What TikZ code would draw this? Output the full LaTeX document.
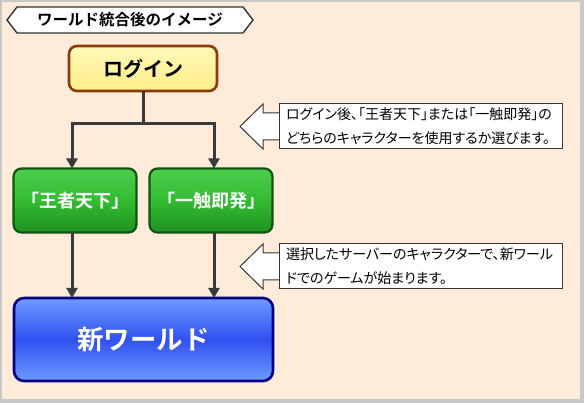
\documentclass[tikz,border=0pt]{standalone}
\usepackage{fontspec}
\usetikzlibrary{arrows.meta}
\newfontfamily\jpfont{Noto Sans CJK JP}[BoldFont={Noto Sans CJK JP Bold}]
\newfontfamily\jpnote{Noto Sans CJK JP}[RawFeature=+palt]

\definecolor{cc8c8c8}{RGB}{200,200,200}
\definecolor{cffebda}{RGB}{255,235,218}
\definecolor{c333333}{RGB}{51,51,51}
\definecolor{c3a3a3a}{RGB}{58,58,58}
\definecolor{c8b3a0c}{RGB}{139,58,12}
\definecolor{cfff9b8}{RGB}{255,249,184}
\definecolor{cffee88}{RGB}{255,238,136}
\definecolor{c115511}{RGB}{17,85,17}
\definecolor{c4ccc4c}{RGB}{76,204,76}
\definecolor{c33bb33}{RGB}{51,187,51}
\definecolor{c1f921f}{RGB}{31,146,31}
\definecolor{c000080}{RGB}{0,0,128}
\definecolor{c6e9bff}{RGB}{110,155,255}
\definecolor{c3050f0}{RGB}{48,80,240}

\tikzset{
  loginbox/.style={draw=c8b3a0c, line width=2.6pt, rounded corners=8pt,
    top color=cfff9b8, bottom color=cffee88, minimum width=148pt,
    minimum height=45pt, font=\jpfont\bfseries\fontsize{20}{20}\selectfont},
  teambox/.style={draw=c115511, line width=2.2pt, rounded corners=8pt,
    top color=c4ccc4c, bottom color=c1f921f, middle color=c33bb33,
    minimum width=123pt, minimum height=64pt, text=white,
    font=\jpfont\bfseries\fontsize{18}{18}\selectfont},
  worldbox/.style={draw=c000080, line width=2.6pt, rounded corners=10pt,
    top color=c6e9bff, bottom color=c6e9bff, middle color=c3050f0,
    minimum width=259pt, minimum height=83pt, text=white,
    font=\jpfont\bfseries\fontsize{26.5}{26.5}\selectfont},
  notebox/.style={draw=c333333, fill=white, line width=1pt, anchor=north west,
    minimum width=283pt, minimum height=45pt, text width=269pt,
    inner xsep=7pt, align=left, font=\jpnote\fontsize{14}{17}\selectfont,
    execute at begin node=\vspace*{7pt}},
  hintarrow/.style={draw=c333333, fill=white, line width=1pt, line join=miter},
  link/.style={draw=c3a3a3a, line width=3pt},
  linkto/.style={link, -{Triangle[length=10pt,width=11pt]}}
}

\begin{document}
\begin{tikzpicture}[y=1pt, x=1pt, yscale=-1, inner sep=0pt, outer sep=0pt]
  % frame
  \path[fill=cc8c8c8] (0,0) rectangle (584,403);
  \path[fill=cffebda] (2,2) rectangle (580,399.5);

  % title tag
  \path[draw=c333333, fill=white, line width=1.4pt, line join=miter]
    (7,20) -- (17,7) -- (243,7) -- (253,20) -- (243,33) -- (17,33) -- cycle;
  \path (130,20) node (title)
    {\jpfont\bfseries\fontsize{15.5}{15.5}\selectfont ワールド統合後のイメージ};

  % boxes
  \path (143,68.5) node[loginbox] (login) {ログイン};
  \path (75,200.5) node[teambox] (ohsha) {「王者天下」};
  \path (211,200.5) node[teambox] (ishoku) {「一触即発」};
  \path (143.5,339.5) node[worldbox] (world) {新ワールド};

  % connectors
  \coordinate (laneL) at (72,124);
  \coordinate (laneR) at (214,124);
  \coordinate (split) at (login.south |- laneL);
  \draw[link] (login.south) -- (split);
  \draw[link, line cap=rect] (laneL) -- (laneR);
  \draw[linkto] (laneL) -- (laneL |- ohsha.north);
  \draw[linkto] (laneR) -- (laneR |- ishoku.north);
  \draw[linkto] (laneL |- ohsha.south) -- (laneL |- world.north);
  \draw[linkto] (laneR |- ishoku.south) -- (laneR |- world.north);

  % hints
  \coordinate (hint1) at (240,126.5);
  \path[hintarrow] (hint1) -- ++(23,-22.5) -- ++(0,9) -- ++(17,0) -- ++(0,27)
    -- ++(-17,0) -- ++(0,9) -- cycle;
  \path (279,104) node[notebox] (note1)
    {ログイン後、「王者天下」または「一触即発」の\\どちらのキャラクターを使用するか選びます。};

  \coordinate (hint2) at (240,266.5);
  \path[hintarrow] (hint2) -- ++(23,-22.5) -- ++(0,9) -- ++(17,0) -- ++(0,27)
    -- ++(-17,0) -- ++(0,9) -- cycle;
  \path (279,244) node[notebox] (note2)
    {選択したサーバーのキャラクターで、新ワール\\ドでのゲームが始まります。};
\end{tikzpicture}
\end{document}
